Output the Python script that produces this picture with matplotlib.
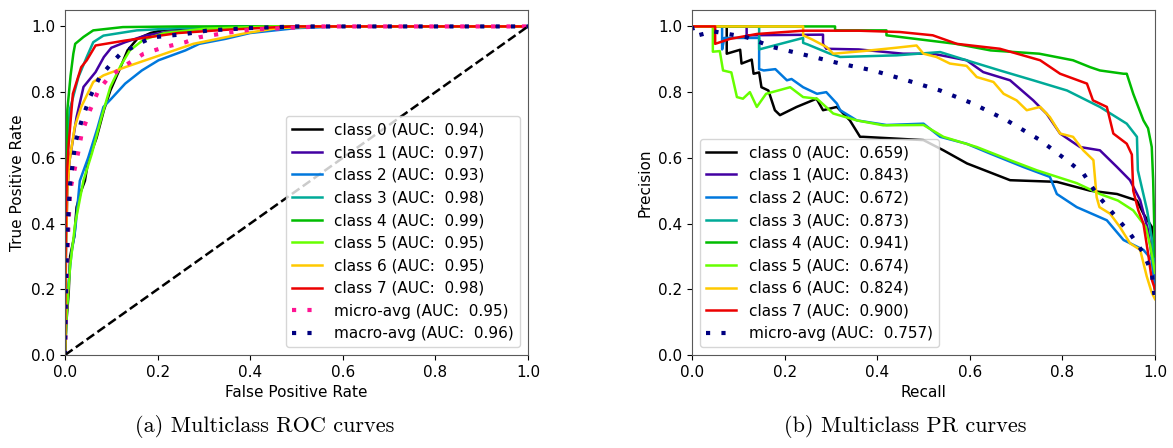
import matplotlib
matplotlib.use("Agg")
import matplotlib.pyplot as plt
import numpy as np

plt.rcParams['font.family'] = ['DejaVu Sans']
plt.rcParams['font.size'] = 11

# ---------------- ROC data ----------------
roc_auc = [0.94, 0.97, 0.93, 0.98, 0.99, 0.95, 0.95, 0.98]
roc_micro_auc = 0.95
roc_macro_auc = 0.96

roc_fpr_0 = [0, 0.003, 0.008, 0.011, 0.02, 0.025, 0.035, 0.043, 0.05, 0.068, 0.084, 0.098, 0.12, 0.135, 0.156, 0.185, 0.215, 0.3, 0.4, 1.0]
roc_tpr_0 = [0, 0.10, 0.19, 0.30, 0.36, 0.45, 0.50, 0.53, 0.59, 0.66, 0.745, 0.805, 0.876, 0.927, 0.962, 0.98, 0.99, 0.997, 1.0, 1.0]
roc_fpr_1 = [0, 0.002, 0.005, 0.01, 0.025, 0.04, 0.066, 0.084, 0.1, 0.13, 0.173, 0.215, 0.3, 0.4, 1.0]
roc_tpr_1 = [0, 0.30, 0.50, 0.593, 0.724, 0.816, 0.861, 0.907, 0.935, 0.952, 0.972, 0.982, 0.993, 1.0, 1.0]
roc_fpr_2 = [0, 0.005, 0.014, 0.022, 0.032, 0.05, 0.07, 0.083, 0.10, 0.13, 0.166, 0.202, 0.26, 0.29, 0.346, 0.40, 0.5, 0.6, 1.0]
roc_tpr_2 = [0, 0.18, 0.31, 0.38, 0.53, 0.60, 0.69, 0.755, 0.78, 0.826, 0.866, 0.897, 0.927, 0.947, 0.962, 0.98, 0.995, 1.0, 1.0]
roc_fpr_3 = [0, 0.002, 0.005, 0.01, 0.029, 0.047, 0.061, 0.083, 0.155, 0.25, 0.35, 1.0]
roc_tpr_3 = [0, 0.40, 0.60, 0.745, 0.846, 0.907, 0.952, 0.972, 0.988, 0.995, 1.0, 1.0]
roc_fpr_4 = [0, 0.002, 0.005, 0.012, 0.018, 0.022, 0.04, 0.061, 0.125, 0.25, 1.0]
roc_tpr_4 = [0, 0.50, 0.745, 0.85, 0.917, 0.947, 0.968, 0.988, 0.998, 1.0, 1.0]
roc_fpr_5 = [0, 0.004, 0.011, 0.022, 0.04, 0.058, 0.079, 0.098, 0.12, 0.14, 0.17, 0.215, 0.3, 0.45, 1.0]
roc_tpr_5 = [0, 0.13, 0.27, 0.40, 0.532, 0.613, 0.724, 0.816, 0.88, 0.927, 0.96, 0.98, 0.993, 1.0, 1.0]
roc_fpr_6 = [0, 0.002, 0.005, 0.01, 0.021, 0.035, 0.061, 0.083, 0.13, 0.205, 0.277, 0.392, 0.46, 0.55, 1.0]
roc_tpr_6 = [0, 0.30, 0.50, 0.593, 0.694, 0.755, 0.831, 0.851, 0.876, 0.912, 0.947, 0.98, 0.995, 1.0, 1.0]
roc_fpr_7 = [0, 0.001, 0.004, 0.008, 0.017, 0.035, 0.047, 0.066, 0.13, 0.17, 0.245, 0.35, 0.49, 1.0]
roc_tpr_7 = [0, 0.30, 0.55, 0.643, 0.795, 0.876, 0.897, 0.942, 0.957, 0.965, 0.98, 0.99, 1.0, 1.0]
roc_fpr_micro = [0, 0.003, 0.007, 0.011, 0.02, 0.029, 0.036, 0.054, 0.072, 0.095, 0.13, 0.17, 0.215, 0.26, 0.29, 0.346, 0.40, 0.55, 1.0]
roc_tpr_micro = [0, 0.20, 0.38, 0.50, 0.56, 0.62, 0.674, 0.745, 0.805, 0.846, 0.881, 0.917, 0.937, 0.952, 0.967, 0.98, 0.99, 1.0, 1.0]
roc_fpr_macro = [0, 0.002, 0.006, 0.011, 0.022, 0.036, 0.054, 0.075, 0.1, 0.12, 0.166, 0.19, 0.26, 0.31, 0.4, 0.5, 1.0]
roc_tpr_macro = [0, 0.20, 0.40, 0.52, 0.643, 0.714, 0.785, 0.846, 0.887, 0.917, 0.952, 0.967, 0.977, 0.988, 0.995, 1.0, 1.0]

roc_fpr = [roc_fpr_0, roc_fpr_1, roc_fpr_2, roc_fpr_3, roc_fpr_4, roc_fpr_5, roc_fpr_6, roc_fpr_7]
roc_tpr = [roc_tpr_0, roc_tpr_1, roc_tpr_2, roc_tpr_3, roc_tpr_4, roc_tpr_5, roc_tpr_6, roc_tpr_7]

# ---------------- PR data ----------------
pr_auc = [0.659, 0.843, 0.672, 0.873, 0.941, 0.674, 0.824, 0.900]
pr_micro_auc = 0.757

pr_r_0 = [0, 0.075, 0.075, 0.104, 0.107, 0.129, 0.133, 0.145, 0.15, 0.165, 0.179, 0.19, 0.226, 0.269, 0.283, 0.313, 0.341, 0.363, 0.37, 0.5, 0.543, 0.594, 0.687, 0.788, 0.86, 0.918, 0.961, 0.975, 0.993, 1.0]
pr_p_0 = [1, 1, 0.917, 0.929, 0.887, 0.899, 0.856, 0.86, 0.815, 0.805, 0.745, 0.73, 0.755, 0.78, 0.745, 0.755, 0.714, 0.664, 0.664, 0.654, 0.623, 0.583, 0.532, 0.527, 0.50, 0.49, 0.47, 0.43, 0.39, 0.2]
pr_r_1 = [0, 0.118, 0.118, 0.283, 0.283, 0.29, 0.36, 0.456, 0.52, 0.593, 0.629, 0.687, 0.737, 0.766, 0.795, 0.838, 0.881, 0.918, 0.946, 0.968, 0.985, 0.995, 1.0]
pr_p_1 = [1, 1, 0.973, 0.975, 0.947, 0.932, 0.93, 0.917, 0.917, 0.897, 0.861, 0.836, 0.775, 0.734, 0.674, 0.633, 0.623, 0.572, 0.532, 0.471, 0.38, 0.28, 0.2]
pr_r_2 = [0, 0.065, 0.065, 0.07, 0.145, 0.145, 0.155, 0.18, 0.205, 0.215, 0.24, 0.27, 0.29, 0.313, 0.32, 0.356, 0.42, 0.5, 0.536, 0.593, 0.644, 0.716, 0.773, 0.788, 0.831, 0.896, 0.932, 0.975, 0.993, 1.0]
pr_p_2 = [1, 1, 0.93, 0.965, 0.965, 0.87, 0.866, 0.87, 0.836, 0.84, 0.815, 0.795, 0.80, 0.765, 0.745, 0.714, 0.70, 0.704, 0.664, 0.643, 0.613, 0.572, 0.542, 0.49, 0.45, 0.41, 0.35, 0.32, 0.29, 0.2]
pr_r_3 = [0, 0.145, 0.145, 0.24, 0.24, 0.25, 0.298, 0.32, 0.442, 0.536, 0.593, 0.665, 0.737, 0.81, 0.881, 0.939, 0.961, 0.963, 0.983, 0.996, 1.0]
pr_p_3 = [1, 1, 0.93, 0.965, 0.95, 0.945, 0.917, 0.907, 0.912, 0.922, 0.897, 0.866, 0.836, 0.805, 0.755, 0.704, 0.664, 0.562, 0.44, 0.33, 0.25]
pr_r_4 = [0, 0.309, 0.309, 0.42, 0.42, 0.57, 0.645, 0.75, 0.823, 0.86, 0.881, 0.932, 0.939, 0.953, 0.975, 0.985, 0.993, 0.996, 1.0]
pr_p_4 = [1, 1, 0.988, 0.988, 0.973, 0.947, 0.927, 0.917, 0.897, 0.876, 0.866, 0.856, 0.856, 0.795, 0.714, 0.69, 0.633, 0.532, 0.3]
pr_r_5 = [0, 0.045, 0.045, 0.06, 0.067, 0.085, 0.097, 0.11, 0.125, 0.14, 0.16, 0.212, 0.24, 0.27, 0.305, 0.356, 0.413, 0.5, 0.543, 0.615, 0.687, 0.745, 0.831, 0.881, 0.92, 0.953, 0.98, 0.99, 1.0]
pr_p_5 = [1, 1, 0.923, 0.925, 0.866, 0.86, 0.785, 0.78, 0.80, 0.755, 0.795, 0.815, 0.785, 0.78, 0.735, 0.714, 0.699, 0.70, 0.664, 0.633, 0.593, 0.562, 0.523, 0.49, 0.47, 0.44, 0.39, 0.33, 0.25]
pr_r_6 = [0, 0.24, 0.24, 0.26, 0.291, 0.305, 0.37, 0.44, 0.485, 0.5, 0.528, 0.557, 0.593, 0.615, 0.651, 0.673, 0.701, 0.723, 0.752, 0.773, 0.795, 0.823, 0.845, 0.867, 0.874, 0.88, 0.903, 0.924, 0.946, 0.968, 0.982, 0.993, 1.0]
pr_p_6 = [1, 1, 0.973, 0.96, 0.937, 0.917, 0.925, 0.935, 0.942, 0.917, 0.907, 0.887, 0.88, 0.846, 0.831, 0.795, 0.775, 0.745, 0.755, 0.724, 0.674, 0.664, 0.623, 0.593, 0.48, 0.45, 0.43, 0.39, 0.34, 0.32, 0.24, 0.19, 0.17]
pr_r_7 = [0, 0.05, 0.05, 0.082, 0.14, 0.24, 0.36, 0.449, 0.52, 0.572, 0.665, 0.752, 0.795, 0.853, 0.866, 0.896, 0.91, 0.939, 0.95, 0.953, 0.964, 0.975, 0.985, 0.993, 1.0]
pr_p_7 = [1, 1, 0.947, 0.962, 0.977, 0.987, 0.987, 0.983, 0.973, 0.947, 0.932, 0.897, 0.856, 0.826, 0.775, 0.755, 0.674, 0.643, 0.61, 0.50, 0.44, 0.40, 0.31, 0.23, 0.2]
pr_r_micro = [0, 0.005, 0.046, 0.118, 0.175, 0.248, 0.32, 0.391, 0.464, 0.536, 0.607, 0.68, 0.752, 0.809, 0.845, 0.874, 0.91, 0.946, 0.975, 0.993, 1.0]
pr_p_micro = [1, 0.97, 0.985, 0.967, 0.937, 0.912, 0.887, 0.866, 0.836, 0.805, 0.765, 0.714, 0.654, 0.593, 0.553, 0.49, 0.43, 0.37, 0.31, 0.25, 0.167]

pr_r = [pr_r_0, pr_r_1, pr_r_2, pr_r_3, pr_r_4, pr_r_5, pr_r_6, pr_r_7]
pr_p = [pr_p_0, pr_p_1, pr_p_2, pr_p_3, pr_p_4, pr_p_5, pr_p_6, pr_p_7]

ticks = [0.0, 0.2, 0.4, 0.6, 0.8, 1.0]
captions = ["(a) Multiclass ROC curves", "(b) Multiclass PR curves"]

W, H = 1173, 448
fig = plt.figure(figsize=(W / 100, H / 100), dpi=100)
ax1 = fig.add_axes([65 / W, 93 / H, 463 / W, 345 / H])
ax2 = fig.add_axes([692 / W, 93 / H, 463 / W, 345 / H])

cmap = plt.cm.nipy_spectral
n = len(roc_auc)
dots = (0, (1, 2.7))
LW = 1.8

for i in range(n):
    ax1.plot(roc_fpr[i], roc_tpr[i], color=cmap(i / n), lw=LW,
             label='class {} (AUC:  {:.2f})'.format(i, roc_auc[i]))
ax1.plot(roc_fpr_micro, roc_tpr_micro, color='deeppink', lw=3, linestyle=dots,
         label='micro-avg (AUC:  {:.2f})'.format(roc_micro_auc))
ax1.plot(roc_fpr_macro, roc_tpr_macro, color='navy', lw=3, linestyle=dots,
         label='macro-avg (AUC:  {:.2f})'.format(roc_macro_auc))
ax1.plot([0, 1], [0, 1], 'k--', lw=LW)
ax1.set_xlim(0, 1.0)
ax1.set_ylim(0, 1.05)
ax1.set_xlabel('False Positive Rate')
ax1.set_ylabel('True Positive Rate')
ax1.legend(loc='lower right')

for i in range(n):
    ax2.plot(pr_r[i], pr_p[i], color=cmap(i / n), lw=LW,
             label='class {} (AUC:  {:.3f})'.format(i, pr_auc[i]))
ax2.plot(pr_r_micro, pr_p_micro, color='navy', lw=3, linestyle=dots,
         label='micro-avg (AUC:  {:.3f})'.format(pr_micro_auc))
ax2.set_xlim(0, 1.0)
ax2.set_ylim(0, 1.05)
ax2.set_xlabel('Recall')
ax2.set_ylabel('Precision')
ax2.legend(loc='lower left')

for ax in (ax1, ax2):
    ax.set_xticks(ticks)
    ax.set_yticks(ticks)
    for s in ax.spines.values():
        s.set_color('0.35')

fig.text(265 / W, 1 - 426 / H, captions[0], ha='center', va='center', fontsize=16, family='cmr10')
fig.text(905 / W, 1 - 426 / H, captions[1], ha='center', va='center', fontsize=16, family='cmr10')

fig.savefig('out.png', dpi=100)
